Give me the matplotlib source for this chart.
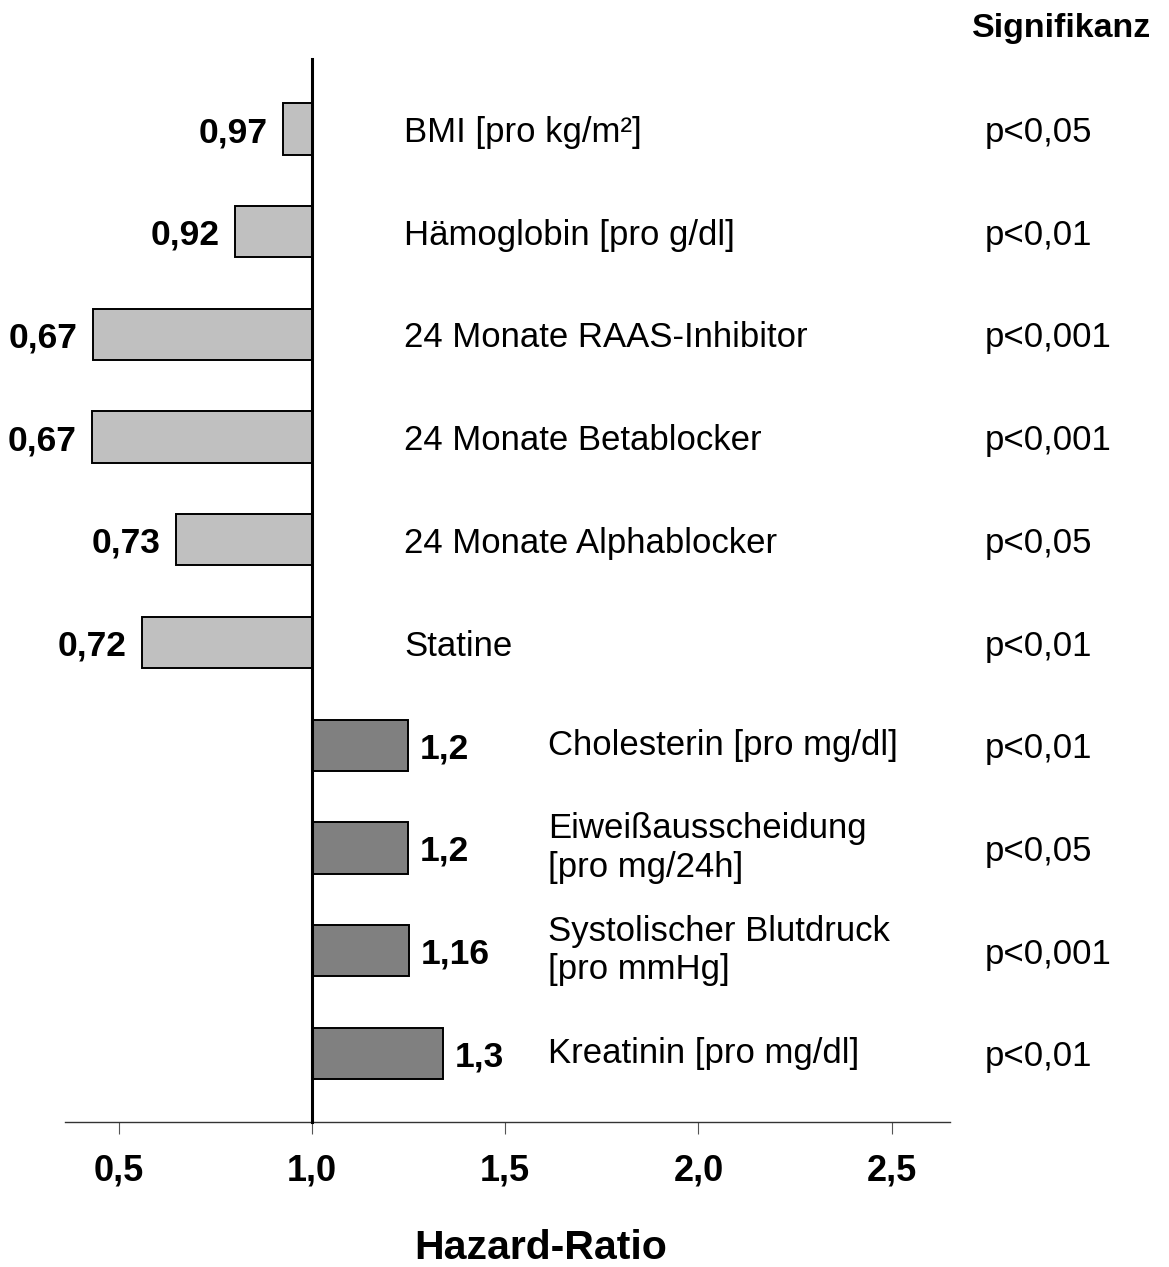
import matplotlib
matplotlib.use("Agg")
import matplotlib.pyplot as plt

plt.rcParams["font.family"] = ["Liberation Sans", "DejaVu Sans"]

# Daten
labels = [
    "BMI [pro kg/m²]",
    "Hämoglobin [pro g/dl]",
    "24 Monate RAAS-Inhibitor",
    "24 Monate Betablocker",
    "24 Monate Alphablocker",
    "Statine",
    "Cholesterin [pro mg/dl]",
    "Eiweißausscheidung\n[pro mg/24h]",
    "Systolischer Blutdruck\n[pro mmHg]",
    "Kreatinin [pro mg/dl]",
]
bar_ends = [0.925, 0.80, 0.433, 0.43, 0.648, 0.56, 1.248, 1.248, 1.25, 1.339]
value_labels = ["0,97", "0,92", "0,67", "0,67", "0,73", "0,72", "1,2", "1,2", "1,16", "1,3"]
p_values = ["p<0,05", "p<0,01", "p<0,001", "p<0,001", "p<0,05",
            "p<0,01", "p<0,01", "p<0,05", "p<0,001", "p<0,01"]
x_ticks = [0.5, 1.0, 1.5, 2.0, 2.5]
x_ticklabels = ["0,5", "1,0", "1,5", "2,0", "2,5"]

W, H = 1169, 1267
fig = plt.figure(figsize=(W / 100, H / 100), dpi=100)
ax = fig.add_axes([65 / W, 1 - 1122 / H, (950 - 65) / W, (1122 - 59) / H])

rows = list(range(len(labels)))
colors = ["#c0c0c0" if v < 1 else "#808080" for v in bar_ends]
ax.barh(rows, [v - 1 for v in bar_ends], left=1, height=0.5,
        color=colors, edgecolor="black", linewidth=1.4, zorder=2)

ax.set_xlim(0.361, 2.651)
ax.set_ylim(9.669, -0.682)

for sp in ["top", "right"]:
    ax.spines[sp].set_visible(False)
ax.spines["left"].set_position(("data", 1.0))
ax.spines["left"].set_linewidth(2.2)
ax.spines["left"].set_zorder(3)
ax.spines["bottom"].set_linewidth(1.0)
ax.spines["bottom"].set_color("#333333")
ax.set_yticks([])
ax.set_xticks(x_ticks)
ax.set_xticklabels(x_ticklabels, fontsize=26, fontweight="bold")
ax.tick_params(axis="x", direction="out", length=8.5, width=0.8,
               color="#555555", pad=14)

for i, (end, vl) in enumerate(zip(bar_ends, value_labels)):
    if end < 1:
        ax.annotate(vl, (end, i), xytext=(-15, 0), textcoords="offset pixels",
                    ha="right", va="center_baseline", fontsize=25.5,
                    fontweight="bold")
        ax.text(1.238, i, labels[i], ha="left", va="center_baseline",
                fontsize=25, clip_on=False)
    else:
        ax.annotate(vl, (end, i), xytext=(12, 0), textcoords="offset pixels",
                    ha="left", va="center_baseline", fontsize=25.5,
                    fontweight="bold")
        ax.text(1.611, i, labels[i], ha="left", va="center", fontsize=25,
                linespacing=1.2, clip_on=False)
    ax.text(2.741, i, p_values[i], ha="left", va="center_baseline",
            fontsize=25, clip_on=False)

fig.text(1151 / W, 1 - 28 / H, "Signifikanz", ha="right", va="center",
         fontsize=24.5, fontweight="bold")
fig.text(541 / W, 1 - 1248 / H, "Hazard-Ratio", ha="center", va="center",
         fontsize=29.5, fontweight="bold")

fig.savefig("out.png", dpi=100)
